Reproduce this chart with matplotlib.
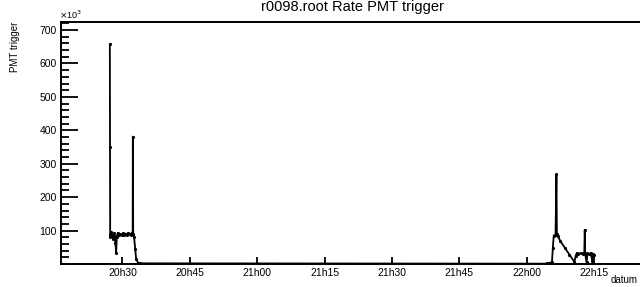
import matplotlib
matplotlib.use('Agg')
import matplotlib.pyplot as plt
from matplotlib.ticker import FixedLocator, MultipleLocator, FuncFormatter

plt.rcParams['font.family'] = ['Liberation Sans', 'DejaVu Sans']

# time in minutes after 20h00, rate in counts
minutes = [27.20, 27.24, 27.28, 27.45, 27.65, 27.85, 28.05, 28.25, 28.45, 28.60,
           28.75, 28.95, 29.20, 29.50, 29.80, 30.10, 30.40, 30.70, 31.00, 31.30,
           31.60, 31.90, 32.10, 32.28, 32.32, 32.40, 32.60, 32.85, 33.05, 33.50,
           34.00, 124.00, 124.50, 125.60, 125.80, 126.00, 126.40, 126.60, 126.70,
           126.85, 127.50, 128.50, 129.50, 130.60, 130.90, 131.10, 131.50, 132.00,
           132.50, 132.80, 132.90, 133.00, 133.30, 133.50, 133.80, 134.20, 134.60,
           134.80, 135.00]
rate_k = [657, 349, 82, 95, 86, 76, 92, 85, 62, 34,
          80, 93, 87, 90, 86, 92, 88, 91, 87, 93,
          89, 86, 94, 88, 381, 90, 80, 45, 15, 3,
          2, 1, 2, 5, 48, 85, 88, 269, 90,
          85, 68, 48, 28, 6, 25, 32, 30, 33,
          31, 34, 102, 30, 5, 32, 30, 33, 8,
          30, 28]

tick_minutes = [30, 45, 60, 75, 90, 105, 120, 135]
tick_labels = ['20h30', '20h45', '21h00', '21h15', '21h30', '21h45', '22h00', '22h15']

fig = plt.figure(figsize=(6.4, 2.87), dpi=100)
ax = fig.add_axes([61 / 640, 1 - 264 / 287, 579 / 640, 242 / 287])

ax.plot(minutes, [v * 1000 for v in rate_k], color='black', lw=1.3,
        marker='.', markersize=2.5)

ax.set_xlim(16.33, 145.2)
ax.set_ylim(0, 724e3)

ax.xaxis.set_major_locator(FixedLocator(tick_minutes))
ax.set_xticklabels(tick_labels)
ax.yaxis.set_major_locator(FixedLocator([100e3 * i for i in range(1, 8)]))
ax.yaxis.set_minor_locator(MultipleLocator(20e3))
ax.yaxis.set_major_formatter(FuncFormatter(lambda v, p: '%d' % round(v / 1000)))

ax.tick_params(axis='x', which='major', direction='in', length=5, width=1.3,
               labelsize=7.5, pad=3)
ax.tick_params(axis='y', which='major', direction='in', length=12, width=1.3,
               labelsize=7.5, pad=3)
ax.tick_params(axis='y', which='minor', direction='in', length=6, width=1.3)
ax.tick_params(top=False, right=False)

for s in ax.spines.values():
    s.set_linewidth(1.4)
ax.spines['right'].set_visible(False)

fig.text(352 / 640, 1 - 11 / 287, 'r0098.root Rate PMT trigger', ha='center',
         va='baseline', fontsize=10.5)
fig.text(59 / 640, 1 - 19 / 287, r'$\times$10$^{3}$', ha='left', va='baseline',
         fontsize=6.5)
fig.text(15 / 640, 1 - 22 / 287, 'PMT trigger', rotation=90, ha='center',
         va='top', fontsize=7)
fig.text(638 / 640, 1 - 285 / 287, 'datum', ha='right', va='bottom', fontsize=7)

fig.savefig('out.png', dpi=100)
